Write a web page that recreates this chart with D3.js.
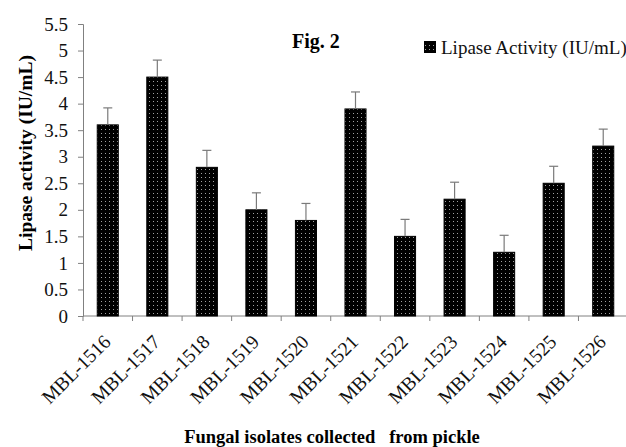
<!DOCTYPE html>
<html><head><meta charset="utf-8">
<script src="https://cdn.jsdelivr.net/npm/d3@7"></script>
<style>body{margin:0;background:#fff}svg{display:block}</style>
</head><body><svg id="c" width="626" height="447"></svg>
<script>
const categories = ["MBL-1516","MBL-1517","MBL-1518","MBL-1519","MBL-1520","MBL-1521","MBL-1522","MBL-1523","MBL-1524","MBL-1525","MBL-1526"];
const values = [3.6, 4.5, 2.8, 2.0, 1.8, 3.9, 1.5, 2.2, 1.2, 2.5, 3.2];
const errors = [0.32, 0.32, 0.32, 0.32, 0.32, 0.32, 0.32, 0.32, 0.32, 0.32, 0.32];
const yTicks = [0, 0.5, 1, 1.5, 2, 2.5, 3, 3.5, 4, 4.5, 5, 5.5];
const seriesName = "Lipase Activity (IU/mL)";
const FONT = '"Liberation Serif", "Times New Roman", serif';

const svg = d3.select("#c");
const defs = svg.append("defs");
const pat = defs.append("pattern").attr("id","dots").attr("patternUnits","userSpaceOnUse")
  .attr("width",4).attr("height",4);
pat.append("rect").attr("width",4).attr("height",4).attr("fill","#000");
pat.append("rect").attr("x",1).attr("y",1).attr("width",1).attr("height",1).attr("fill","#a0a0a0");

const x = d3.scaleBand().domain(categories).range([83, 628]).paddingInner(0.575).paddingOuter(0.2875);
const y = d3.scaleLinear().domain([0, 5.5]).range([316, 24]);
const axisCol = "#808080";

// y axis
const ya = svg.append("g").attr("transform","translate(83,0)")
  .call(d3.axisLeft(y).tickValues(yTicks).tickSize(5).tickPadding(10).tickFormat(d3.format("")));
ya.select(".domain").attr("stroke",axisCol);
ya.selectAll(".tick line").attr("stroke",axisCol);
ya.selectAll("text").attr("font-size",19).attr("fill","#111").style("font-family",FONT);

// x axis
const xa = svg.append("g").attr("transform","translate(0,316)");
xa.append("line").attr("x1",83).attr("x2",628).attr("y1",0).attr("y2",0).attr("stroke",axisCol);
const bounds = categories.map(c => x(c) - x.step()*x.paddingInner()/2);
xa.selectAll("line.tk").data(bounds).join("line").attr("class","tk")
  .attr("x1",d=>d).attr("x2",d=>d).attr("y1",0).attr("y2",5).attr("stroke",axisCol);
xa.selectAll("text.lab").data(categories).join("text").attr("class","lab")
  .attr("transform", d => `translate(${x(d)+x.bandwidth()/2+4},${27}) rotate(-45)`)
  .attr("text-anchor","end").attr("font-size",19.5).attr("fill","#111").style("font-family",FONT).text(d=>d);

// bars
svg.append("g").selectAll("rect").data(categories).join("rect")
  .attr("x", d=>x(d)).attr("width", x.bandwidth())
  .attr("y", (d,i)=>y(values[i])).attr("height",(d,i)=>y(0)-y(values[i]))
  .attr("fill","url(#dots)").attr("stroke","#000").attr("stroke-width",1);

// error bars
const eg = svg.append("g").attr("stroke","#7a7a7a").attr("stroke-width",1.2);
categories.forEach((c,i)=>{
  const cx = x(c)+x.bandwidth()/2;
  eg.append("line").attr("x1",cx).attr("x2",cx).attr("y1",y(values[i])).attr("y2",y(values[i]+errors[i]));
  eg.append("line").attr("x1",cx-4.5).attr("x2",cx+4.5).attr("y1",y(values[i]+errors[i])).attr("y2",y(values[i]+errors[i]));
});

// title
svg.append("text").attr("x",292).attr("y",48).attr("font-size",20).attr("font-weight","bold").attr("fill","#000").style("font-family",FONT).text("Fig. 2");

// legend
svg.append("rect").attr("x",424.5).attr("y",41.5).attr("width",11).attr("height",11).attr("fill","url(#dots)").attr("stroke","#000");
svg.append("text").attr("x",441).attr("y",54).attr("font-size",19).attr("fill","#111").style("font-family",FONT).text(seriesName);

// axis titles
svg.append("text").attr("transform","translate(32,153) rotate(-90)").attr("text-anchor","middle")
  .attr("font-size",19.5).attr("font-weight","bold").attr("fill","#000").style("font-family",FONT).text("Lipase activity (IU/mL)");
svg.append("text").attr("x",332).attr("y",443).attr("text-anchor","middle")
  .attr("font-size",18.5).attr("font-weight","bold").attr("fill","#000").style("font-family",FONT)
  .style("white-space","pre").text("Fungal isolates collected   from pickle");
</script></body></html>
